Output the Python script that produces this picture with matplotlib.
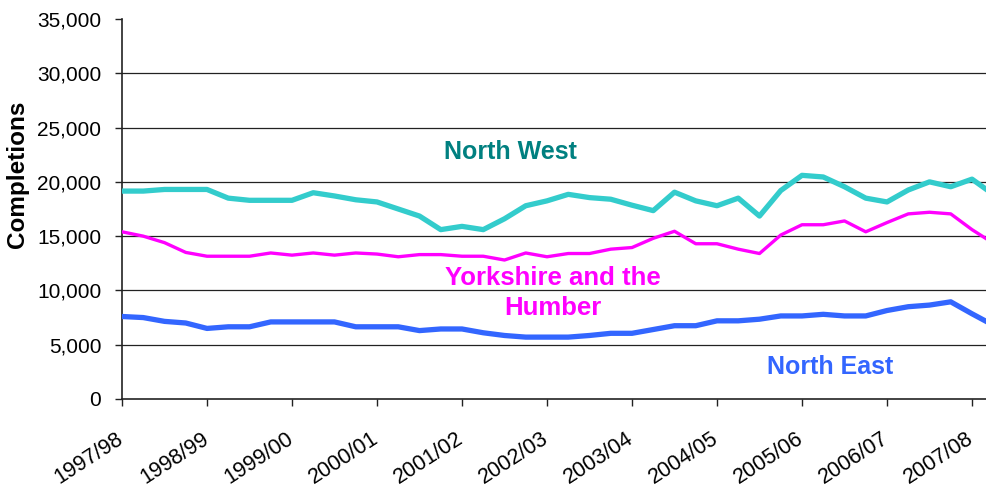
import matplotlib
matplotlib.use("Agg")
import matplotlib.pyplot as plt
from matplotlib.ticker import FuncFormatter
from matplotlib.transforms import ScaledTranslation

plt.rcParams['font.family'] = ['Liberation Sans', 'DejaVu Sans']

years = ["1997/98", "1998/99", "1999/00", "2000/01", "2001/02", "2002/03",
         "2003/04", "2004/05", "2005/06", "2006/07", "2007/08"]

north_west = [19.15, 19.15, 19.3, 19.3, 19.3, 18.5, 18.3, 18.3, 18.3, 19.0,
              18.7, 18.35, 18.15, 17.5, 16.85, 15.6, 15.9, 15.6, 16.6, 17.8,
              18.25, 18.85, 18.55, 18.4, 17.85, 17.35, 19.05, 18.25, 17.8, 18.5,
              16.85, 19.2, 20.6, 20.45, 19.55, 18.5, 18.15, 19.25, 20.0, 19.55,
              20.25, 18.85]
yorkshire = [15.4, 15.0, 14.4, 13.5, 13.15, 13.15, 13.15, 13.45, 13.25, 13.45,
             13.25, 13.45, 13.35, 13.1, 13.3, 13.3, 13.15, 13.15, 12.8, 13.45,
             13.1, 13.4, 13.4, 13.8, 13.95, 14.8, 15.45, 14.3, 14.3, 13.8,
             13.4, 15.1, 16.05, 16.05, 16.4, 15.4, 16.25, 17.05, 17.2, 17.05,
             15.6, 14.35]
north_east = [7.6, 7.5, 7.15, 7.0, 6.5, 6.65, 6.65, 7.1, 7.1, 7.1,
              7.1, 6.65, 6.65, 6.65, 6.3, 6.45, 6.45, 6.1, 5.85, 5.7,
              5.7, 5.7, 5.85, 6.05, 6.05, 6.4, 6.75, 6.75, 7.2, 7.2,
              7.35, 7.65, 7.65, 7.8, 7.65, 7.65, 8.15, 8.5, 8.65, 8.95,
              7.85, 6.8]

nw = [v * 1000 for v in north_west]
yh = [v * 1000 for v in yorkshire]
ne = [v * 1000 for v in north_east]
x = list(range(len(nw)))

W, H = 986, 487
fig = plt.figure(figsize=(W / 100, H / 100), dpi=100)
ax = fig.add_axes([122 / W, 88 / H, 864 / W, 380 / H])

ax.plot(x, nw, color='#33CCCC', lw=3.8, zorder=3)
ax.plot(x, yh, color='#FF00FF', lw=2.4, zorder=3)
ax.plot(x, ne, color='#3366FF', lw=3.8, zorder=3)

ax.set_xlim(0, 864 / 21.25)
ax.set_ylim(0, 35000)
ax.set_yticks(range(0, 35001, 5000))
ax.yaxis.set_major_formatter(FuncFormatter(lambda v, p: f"{int(v):,}"))
ax.set_xticks(range(0, 41, 4))
ax.set_xticklabels(years)

ax.grid(axis='y', color='#222222', lw=0.9, zorder=1)
ax.set_axisbelow(True)
gl = ax.yaxis.get_gridlines()
gl[-1].set_visible(False)
gl[0].set_visible(False)

for s in ['top', 'right']:
    ax.spines[s].set_visible(False)
for s in ['left', 'bottom']:
    ax.spines[s].set_color('#222222')
    ax.spines[s].set_linewidth(1.2)

ax.tick_params(axis='y', direction='out', length=5, width=1, pad=10,
               labelsize=15, colors='#222222', labelcolor='black')
ax.tick_params(axis='x', direction='out', length=5, width=1, pad=16,
               labelsize=15.5, colors='#222222', labelcolor='black')
off = ScaledTranslation(-6 / 100, 0, fig.dpi_scale_trans)
for lab in ax.get_xticklabels():
    lab.set_rotation(33)
    lab.set_ha('right')
    lab.set_va('top')
    lab.set_rotation_mode('anchor')
    lab.set_transform(lab.get_transform() + off)

ax.set_ylabel("Completions", fontsize=17.5, fontweight='bold')
ax.yaxis.set_label_coords(-0.108, 0.592)

ax.text((510 - 122) / 21.25, 22750, "North West", color='#008080',
        fontsize=18, fontweight='bold', ha='center', va='center')
ax.text((553 - 122) / 21.25, 11140, "Yorkshire and the", color='#FF00FF',
        fontsize=18.5, fontweight='bold', ha='center', va='center')
ax.text((553 - 122) / 21.25, 8380, "Humber", color='#FF00FF',
        fontsize=18.5, fontweight='bold', ha='center', va='center')
ax.text((830 - 122) / 21.25, 2950, "North East", color='#3366FF',
        fontsize=18, fontweight='bold', ha='center', va='center')

fig.savefig("out.png", dpi=100)
